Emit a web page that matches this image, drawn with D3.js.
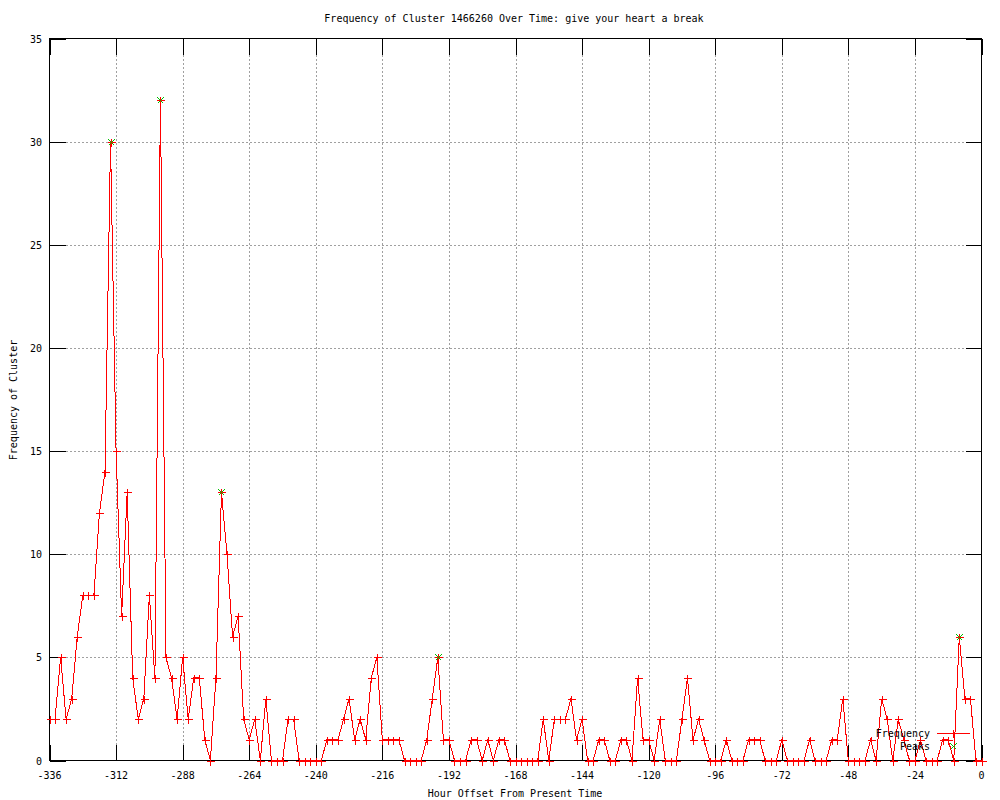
<!DOCTYPE html>
<html>
<head>
<meta charset="utf-8">
<script src="https://cdn.jsdelivr.net/npm/d3@7"></script>
<style>
  html, body { margin: 0; padding: 0; background: #fff; }
  svg { display: block; }
  text { font-family: "DejaVu Sans Mono", "Liberation Mono", monospace; font-size: 10px; fill: #000; }
</style>
</head>
<body>
<svg id="chart" width="1000" height="800"></svg>
<script>
const titleText = "Frequency of Cluster 1466260 Over Time: give your heart a break";
const xLabel = "Hour Offset From Present Time";
const yLabel = "Frequency of Cluster";

const hours = [
  -336,-334,-332,-330,-328,-326,-324,-322,-320,-318,-316,-314,-312,-310,-308,-306,-304,-302,-300,-298,
  -296,-294,-292,-290,-288,-286,-284,-282,-280,-278,-276,-274,-272,-270,-268,-266,-264,-262,-260,-258,
  -256,-254,-252,-250,-248,-246,-244,-242,-240,-238,-236,-234,-232,-230,-228,-226,-224,-222,-220,-218,
  -216,-214,-212,-210,-208,-206,-204,-202,-200,-198,-196,-194,-192,-190,-188,-186,-184,-182,-180,-178,
  -176,-174,-172,-170,-168,-166,-164,-162,-160,-158,-156,-154,-152,-150,-148,-146,-144,-142,-140,-138,
  -136,-134,-132,-130,-128,-126,-124,-122,-120,-118,-116,-114,-112,-110,-108,-106,-104,-102,-100,-98,
  -96,-94,-92,-90,-88,-86,-84,-82,-80,-78,-76,-74,-72,-70,-68,-66,-64,-62,-60,-58,
  -56,-54,-52,-50,-48,-46,-44,-42,-40,-38,-36,-34,-32,-30,-28,-26,-24,-22,-20,-18,
  -16,-14,-12,-10,-8,-6,-4,-2,0
];
const frequency = [
  2,2,5,2,3,6,8,8,8,12,14,30,15,7,13,4,2,3,8,4,
  32,5,4,2,5,2,4,4,1,0,4,13,10,6,7,2,1,2,0,3,
  0,0,0,2,2,0,0,0,0,0,1,1,1,2,3,1,2,1,4,5,
  1,1,1,1,0,0,0,0,1,3,5,1,1,0,0,0,1,1,0,1,
  0,1,1,0,0,0,0,0,0,2,0,2,2,2,3,1,2,0,0,1,
  1,0,0,1,1,0,4,1,1,0,2,0,0,0,2,4,1,2,1,0,
  0,0,1,0,0,0,1,1,1,0,0,0,1,0,0,0,0,1,0,0,
  0,1,1,3,0,0,0,0,1,0,3,2,0,2,1,0,0,1,0,0,
  0,1,1,0,6,3,3,0,0
];
const peakHours = [-314, -296, -274, -196, -8];
const peakValues = [30, 32, 13, 5, 6];

const xTicks = [-336,-312,-288,-264,-240,-216,-192,-168,-144,-120,-96,-72,-48,-24,0];
const yTicks = [0,5,10,15,20,25,30,35];
const legendLabels = ["Frequency", "Peaks"];

const L = 49.5, R = 981.5, T = 38.5, B = 760.5;
const svg = d3.select("#chart");
const x = d3.scaleLinear().domain([-336, 0]).range([L, R]);
const y = d3.scaleLinear().domain([0, 35]).range([B, T]);

const red = "#ff0000", green = "#00c000", grid = "#a0a0a0";
const tickLen = 16;

// grid
const g = svg.append("g").attr("shape-rendering", "crispEdges");
g.selectAll(".gx").data(xTicks.filter(d => d > -336 && d < 0)).enter().append("line")
  .attr("x1", d => Math.round(x(d)) + 0.5).attr("x2", d => Math.round(x(d)) + 0.5)
  .attr("y1", T).attr("y2", B)
  .attr("stroke", grid).attr("stroke-dasharray", "2,2");
g.selectAll(".gy").data(yTicks.filter(d => d > 0 && d < 35)).enter().append("line")
  .attr("y1", d => Math.round(y(d)) + 0.5).attr("y2", d => Math.round(y(d)) + 0.5)
  .attr("x1", L).attr("x2", R)
  .attr("stroke", grid).attr("stroke-dasharray", "2,2");

// ticks (inward, mirrored)
const ax = svg.append("g").attr("shape-rendering", "crispEdges").attr("stroke", "#000");
xTicks.forEach(d => {
  const px = Math.round(x(d)) + 0.5;
  ax.append("line").attr("x1", px).attr("x2", px).attr("y1", B).attr("y2", B - tickLen);
  ax.append("line").attr("x1", px).attr("x2", px).attr("y1", T).attr("y2", T + tickLen);
});
yTicks.forEach(d => {
  const py = Math.round(y(d)) + 0.5;
  ax.append("line").attr("y1", py).attr("y2", py).attr("x1", L).attr("x2", L + tickLen);
  ax.append("line").attr("y1", py).attr("y2", py).attr("x1", R).attr("x2", R - tickLen);
});
ax.append("rect").attr("x", L).attr("y", T).attr("width", R - L).attr("height", B - T)
  .attr("fill", "none");

// tick labels
svg.selectAll(".xl").data(xTicks).enter().append("text")
  .attr("x", d => x(d)).attr("y", 779).attr("text-anchor", "middle").text(d => d);
svg.selectAll(".yl").data(yTicks).enter().append("text")
  .attr("x", 42).attr("y", d => y(d) + 4).attr("text-anchor", "end").text(d => d);

// titles
svg.append("text").attr("x", 514).attr("y", 22).attr("text-anchor", "middle").text(titleText);
svg.append("text").attr("x", 515).attr("y", 797).attr("text-anchor", "middle").text(xLabel);
svg.append("text").attr("transform", "translate(17,400) rotate(-90)")
  .attr("text-anchor", "middle").text(yLabel);

// data
const data = hours.map((h, i) => ({h, v: frequency[i]}));
const line = d3.line().x(d => x(d.h)).y(d => y(d.v));
svg.append("path").datum(data).attr("d", line)
  .attr("fill", "none").attr("stroke", red).attr("stroke-width", 1)
  .attr("shape-rendering", "crispEdges");

function plus(sel, px, py, color) {
  sel.append("path").attr("d", `M${px-4},${py}H${px+4}M${px},${py-4}V${py+4}`)
    .attr("stroke", color).attr("stroke-width", 1).attr("fill", "none")
    .attr("shape-rendering", "crispEdges");
}
function cross(sel, px, py, color) {
  sel.append("path").attr("d", `M${px-3},${py-3}L${px+3},${py+3}M${px-3},${py+3}L${px+3},${py-3}`)
    .attr("stroke", color).attr("stroke-width", 1).attr("fill", "none")
    .attr("shape-rendering", "crispEdges");
}
const pts = svg.append("g");
data.forEach(d => plus(pts, Math.round(x(d.h)) + 0.5, Math.round(y(d.v)) + 0.5, red));

const pk = svg.append("g");
peakHours.forEach((h, i) => cross(pk, Math.round(x(h)) + 0.5, Math.round(y(peakValues[i])) + 0.5, green));

// legend
const lg = svg.append("g");
lg.append("text").attr("x", 930).attr("y", 737).attr("text-anchor", "end").text(legendLabels[0]);
lg.append("line").attr("x1", 937).attr("x2", 970).attr("y1", 733.5).attr("y2", 733.5)
  .attr("stroke", red).attr("shape-rendering", "crispEdges");
plus(lg, 953.5, 733.5, red);
lg.append("text").attr("x", 930).attr("y", 750).attr("text-anchor", "end").text(legendLabels[1]);
cross(lg, 953.5, 746.5, green);
</script>
</body>
</html>
